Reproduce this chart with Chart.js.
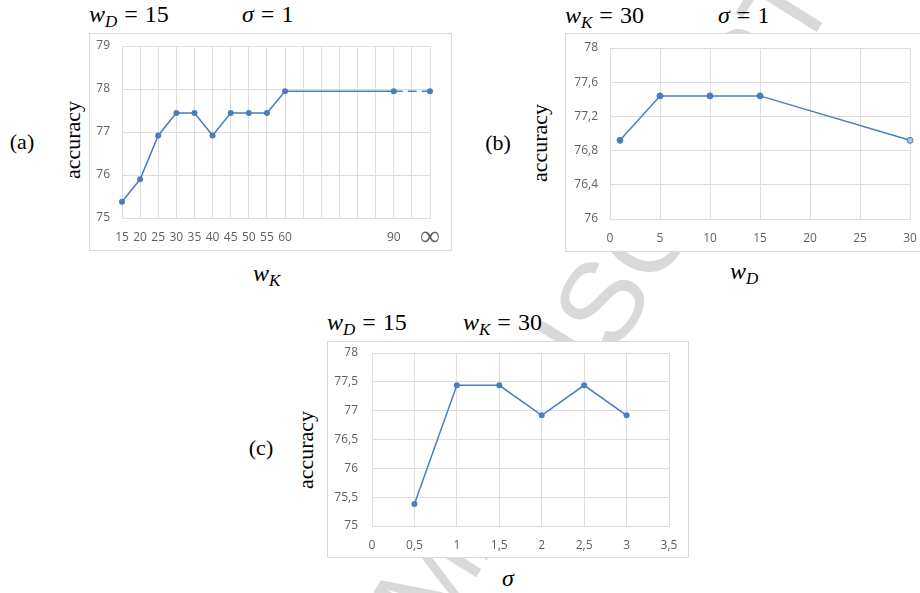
<!DOCTYPE html>
<html>
<head>
<meta charset="utf-8">
<script src="https://cdn.jsdelivr.net/npm/chart.js@4/dist/chart.umd.min.js"></script>
<style>
body{margin:0;width:920px;height:593px;overflow:hidden;background:#fff;position:relative;font-family:"Liberation Serif","Times New Roman",serif;}
.box{position:absolute;border:1px solid #d9d9d9;background:#fff;z-index:2;}
.box canvas{display:block;}
.mt{position:absolute;font-family:"Liberation Serif",serif;font-weight:normal;font-size:24px;line-height:24px;color:#000;white-space:nowrap;z-index:3;}
.mt sub{font-size:17px;vertical-align:-5px;line-height:0;}
.mt .eq{padding:0 7px;}
.lab{position:absolute;font-family:"Liberation Serif",serif;font-size:22px;line-height:22px;transform:translate(-50%,-50%);z-index:3;}
.acc{position:absolute;font-family:"Liberation Serif",serif;font-size:22px;line-height:22px;transform:translate(-50%,-50%) rotate(-90deg);z-index:3;}
#wm{position:absolute;left:0;top:0;font-family:"Liberation Sans",sans-serif;font-size:115px;line-height:115px;color:#d9d9d9;white-space:nowrap;z-index:1;}
#wmS{display:inline-block;width:0;height:0;}
</style>
</head>
<body>
<div id="wm">ACCEPTED MANU<span id="wmS"></span>SCRIPT</div>

<!-- (a) -->
<div class="mt" style="left:89px;top:2px"><i>w</i><sub><i>D</i></sub><span class="eq">=</span>15</div>
<div class="mt" style="left:242px;top:2px"><i>σ</i><span class="eq">=</span>1</div>
<div class="lab" style="left:22px;top:142px">(a)</div>
<div class="acc" style="left:73px;top:140px">accuracy</div>
<div class="box" style="left:89px;top:33px"><canvas id="chartA" width="361" height="216"></canvas></div>
<div class="mt" style="left:253px;top:261px"><i>w</i><sub><i>K</i></sub></div>

<!-- (b) -->
<div class="mt" style="left:565px;top:3px"><i>w</i><sub><i>K</i></sub><span class="eq">=</span>30</div>
<div class="mt" style="left:718px;top:3px"><i>σ</i><span class="eq">=</span>1</div>
<div class="lab" style="left:498px;top:143px">(b)</div>
<div class="acc" style="left:540px;top:143px">accuracy</div>
<div class="box" style="left:565px;top:33px"><canvas id="chartB" width="358" height="217"></canvas></div>
<div class="mt" style="left:730px;top:259px"><i>w</i><sub><i>D</i></sub></div>

<!-- (c) -->
<div class="mt" style="left:327px;top:310px"><i>w</i><sub><i>D</i></sub><span class="eq">=</span>15</div>
<div class="mt" style="left:463px;top:310px"><i>w</i><sub><i>K</i></sub><span class="eq">=</span>30</div>
<div class="lab" style="left:261px;top:448px">(c)</div>
<div class="acc" style="left:306px;top:450px">accuracy</div>
<div class="box" style="left:327px;top:341px"><canvas id="chartC" width="360" height="215"></canvas></div>
<div class="mt" style="left:502px;top:566px"><i>σ</i></div>

<script>
// (a) accuracy vs w_K  (w_D = 15, sigma = 1)
const wKLabels=["15","20","25","30","35","40","45","50","55","60","","","","","","90","","∞"];
const accA=[75.38,75.90,76.92,77.44,77.44,76.92,77.44,77.44,77.44,77.95,null,null,null,null,null,77.95,null,77.95];

// (b) accuracy vs w_D  (w_K = 30, sigma = 1)
const wD=[1,5,10,15,30];
const accB=[76.92,77.44,77.44,77.44,76.92];

// (c) accuracy vs sigma  (w_D = 15, w_K = 30)
const sigma=[0.5,1,1.5,2,2.5,3];
const accC=[75.38,77.44,77.44,76.92,77.44,76.92];

const BLUE="#4a7ebb";
const GRID="#dedede";
const TICKFONT={family:"'Open Sans', sans-serif",size:12};
const TICKCOL="#5f5f5f";

/* watermark: put the baseline-left of the "S" at a fixed spot, then tilt */
(function(){
const wm=document.getElementById("wm");
const m=document.getElementById("wmS");
const ox=m.offsetLeft, oy=m.offsetTop;
wm.style.transformOrigin=ox+"px "+oy+"px";
wm.style.left=(615-ox)+"px";
wm.style.top=(355-oy)+"px";
wm.style.transform="rotate(-58deg)";
})();

function comma(v){
return String(Number(v.toFixed(2))).replace(".",",");
}

function baseOpts(pad,yW,xH){
return {
responsive:false,
animation:false,
layout:{padding:{top:pad.top,right:pad.right,left:0,bottom:0}},
plugins:{legend:{display:false},tooltip:{enabled:false}},
elements:{line:{tension:0}},
scales:{
x:{
grid:{color:GRID,drawTicks:false},
border:{color:GRID},
ticks:{color:TICKCOL,font:TICKFONT,padding:12,maxRotation:0,autoSkip:false},
afterFit:s=>{s.height=xH;s.paddingLeft=0;s.paddingRight=0;}
},
y:{
grid:{color:GRID,drawTicks:false},
border:{color:GRID},
ticks:{color:TICKCOL,font:TICKFONT,padding:12},
afterFit:s=>{s.width=yW;s.paddingTop=0;s.paddingBottom=0;}
}
}
};
}

/* A */
let oa=baseOpts({top:12,right:21},32,32);
oa.scales.x.type="category";
oa.scales.x.offset=false;
oa.scales.x.ticks.font=ctx=>{
if(ctx.tick && ctx.tick.label==="∞") return {family:"'Liberation Serif', serif",size:28,lineHeight:14.4/28};
return TICKFONT;
};
oa.scales.y.min=75;
oa.scales.y.max=79;
oa.scales.y.ticks.stepSize=1;
new Chart(document.getElementById("chartA"),{
type:"line",
data:{
labels:wKLabels,
datasets:[{
data:accA,
borderColor:BLUE,
backgroundColor:BLUE,
borderWidth:1.5,
pointRadius:3,
pointBorderWidth:0,
pointBackgroundColor:BLUE,
spanGaps:true,
clip:false,
segment:{borderDash:ctx=>ctx.p1DataIndex===accA.length-1?[9,5]:undefined}
}]
},
options:oa
});

/* B */
let ob=baseOpts({top:14,right:14},44,32);
ob.scales.x.type="linear";
ob.scales.x.min=0;
ob.scales.x.max=30;
ob.scales.x.ticks.stepSize=5;
ob.scales.y.min=76;
ob.scales.y.max=78;
ob.scales.y.ticks.stepSize=0.4;
ob.scales.y.ticks.callback=v=>comma(v);
new Chart(document.getElementById("chartB"),{
type:"line",
data:{
datasets:[{
data:wD.map((x,i)=>({x:x,y:accB[i]})),
borderColor:BLUE,
borderWidth:1.5,
pointRadius:3,
pointBorderWidth:1,
pointBorderColor:BLUE,
pointBackgroundColor:wD.map((x,i)=>i===wD.length-1?"#a9c3e8":BLUE),
clip:false
}]
},
options:ob
});

/* C */
let oc=baseOpts({top:11,right:19},44,31);
oc.scales.x.type="linear";
oc.scales.x.min=0;
oc.scales.x.max=3.5;
oc.scales.x.ticks.stepSize=0.5;
oc.scales.x.ticks.callback=v=>comma(v);
oc.scales.y.min=75;
oc.scales.y.max=78;
oc.scales.y.ticks.stepSize=0.5;
oc.scales.y.ticks.padding=14;
oc.scales.y.ticks.callback=v=>comma(v);
new Chart(document.getElementById("chartC"),{
type:"line",
data:{
datasets:[{
data:sigma.map((x,i)=>({x:x,y:accC[i]})),
borderColor:BLUE,
borderWidth:1.5,
pointRadius:3,
pointBorderWidth:0,
pointBackgroundColor:BLUE,
clip:false
}]
},
options:oc
});
</script>
</body>
</html>
